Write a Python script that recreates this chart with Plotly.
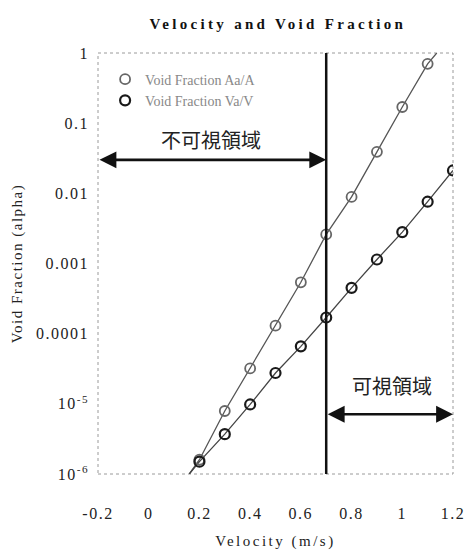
import math
import plotly.graph_objects as go

# ---- data ----
vel_aa = [0.2, 0.3, 0.4, 0.5, 0.6, 0.7, 0.8, 0.9, 1.0, 1.1]
void_aa = [1.6e-6, 7.9e-6, 3.2e-5, 1.3e-4, 5.4e-4, 2.6e-3, 8.9e-3, 0.039, 0.17, 0.70]

vel_va = [0.2, 0.3, 0.4, 0.5, 0.6, 0.7, 0.8, 0.9, 1.0, 1.1, 1.2]
void_va = [1.5e-6, 3.7e-6, 9.8e-6, 2.75e-5, 6.6e-5, 1.7e-4, 4.5e-4, 1.14e-3, 2.8e-3, 7.6e-3, 0.0212]

# fitted-line extensions beyond the measured points
aa_line_start = (0.16, 1e-6)
aa_line_end = (1.136, 1.0)
va_line_start = (0.16, 1e-6)

boundary_velocity = 0.7
invisible_arrow_y = 0.030
visible_arrow_y = 7.1e-6
invisible_label = "不可視領域"
visible_label = "可視領域"
invisible_label_pos = (0.245, 0.058)
visible_label_pos = (0.96, 1.8e-5)

x_ticks = [-0.2, 0, 0.2, 0.4, 0.6, 0.8, 1.0, 1.2]
x_ticktext = ["-0.2", "0", "0.2", "0.4", "0.6", "0.8", "1", "1.2"]
y_ticks = [1e-6, 1e-5, 1e-4, 1e-3, 1e-2, 1e-1, 1]
y_ticktext = ["10<sup>-6</sup>", "10<sup>-5</sup>", "0.0001", "0.001", "0.01", "0.1", "1"]

SERIF = "Liberation Serif, Times New Roman, serif"
CJK = "Noto Sans CJK JP"

fig = go.Figure()

# connecting / fit lines
fig.add_trace(go.Scatter(
    x=[aa_line_start[0]] + vel_aa + [aa_line_end[0]],
    y=[aa_line_start[1]] + void_aa + [aa_line_end[1]],
    mode="lines", line=dict(color="#555555", width=1.3),
    showlegend=False, hoverinfo="skip"))
fig.add_trace(go.Scatter(
    x=[va_line_start[0]] + vel_va,
    y=[va_line_start[1]] + void_va,
    mode="lines", line=dict(color="#444444", width=1.3),
    showlegend=False, hoverinfo="skip"))

# markers
fig.add_trace(go.Scatter(
    x=vel_aa, y=void_aa, mode="markers", name="Void Fraction Aa/A",
    marker=dict(symbol="circle-open", size=10, color="#666666", line=dict(width=1.8))))
fig.add_trace(go.Scatter(
    x=vel_va, y=void_va, mode="markers", name="Void Fraction Va/V",
    marker=dict(symbol="circle-open", size=10, color="#1a1a1a", line=dict(width=2.2))))

# boundary line and dotted frame
shapes = [
    dict(type="rect", xref="paper", yref="paper", x0=0, x1=1, y0=0, y1=1,
         line=dict(color="#9a9a9a", width=1, dash="dot"), layer="below"),
    dict(type="line", xref="x", yref="paper", x0=boundary_velocity, x1=boundary_velocity,
         y0=0, y1=1, line=dict(color="#111111", width=2.5)),
]

annotations = [
    dict(x=boundary_velocity, y=math.log10(invisible_arrow_y), ax=x_ticks[0],
         ay=math.log10(invisible_arrow_y), xref="x", yref="y", axref="x", ayref="y",
         text="", showarrow=True, arrowhead=2, startarrowhead=2, arrowside="end+start",
         arrowwidth=2.6, arrowsize=1.3, startarrowsize=1.3, arrowcolor="#111111",
         standoff=0, startstandoff=0),
    dict(x=x_ticks[-1], y=math.log10(visible_arrow_y), ax=boundary_velocity,
         ay=math.log10(visible_arrow_y), xref="x", yref="y", axref="x", ayref="y",
         text="", showarrow=True, arrowhead=2, startarrowhead=2, arrowside="end+start",
         arrowwidth=2.6, arrowsize=1.3, startarrowsize=1.3, arrowcolor="#111111",
         standoff=0, startstandoff=0),
    dict(x=invisible_label_pos[0], y=math.log10(invisible_label_pos[1]), xref="x", yref="y",
         text=invisible_label, showarrow=False, font=dict(family=CJK, size=20, color="#222222")),
    dict(x=visible_label_pos[0], y=math.log10(visible_label_pos[1]), xref="x", yref="y",
         text=visible_label, showarrow=False, font=dict(family=CJK, size=20, color="#222222")),
    # y-axis title, placed at the far left as in the reference
    dict(x=-0.228, y=0.5, xref="paper", yref="paper", xanchor="center", yanchor="middle",
         text="Void Fraction (alpha)", textangle=-90, showarrow=False,
         font=dict(family=SERIF, size=15, color="#222222")),
]

fig.update_layout(
    width=475, height=559,
    margin=dict(l=98, r=18, t=53, b=76),
    paper_bgcolor="white", plot_bgcolor="white",
    title=dict(text="<b>Velocity and Void Fraction</b>", x=0.585, xanchor="center",
               y=0.958, yanchor="middle",
               font=dict(family=SERIF, size=15, color="#111111")),
    font=dict(family=SERIF, size=15, color="#222222"),
    showlegend=True,
    legend=dict(x=0.02, y=0.975, xanchor="left", yanchor="top",
                bgcolor="rgba(0,0,0,0)", font=dict(family=SERIF, size=14, color="#888888"),
                tracegroupgap=2, itemwidth=30),
    shapes=shapes, annotations=annotations,
)

fig.update_xaxes(range=[-0.2, 1.2], tickvals=x_ticks, ticktext=x_ticktext,
                 showgrid=False, zeroline=False, showline=False, ticks="",
                 ticklabelstandoff=28, tickfont=dict(size=16),
                 title=dict(text="Velocity (m/s)", standoff=14, font=dict(size=15)))
fig.update_yaxes(type="log", range=[-6, 0], tickvals=y_ticks, ticktext=y_ticktext,
                 showgrid=False, zeroline=False, showline=False, ticks="",
                 ticklabelstandoff=8, tickfont=dict(size=16))

css = (
    "body{margin:0;overflow:hidden}"
    ".gtitle{letter-spacing:3.3px}"
    ".xtick text,.ytick text{letter-spacing:1.5px}"
    ".xtitle{letter-spacing:2.5px}"
    ".annotation[data-index='4'] text{letter-spacing:1.5px}"
)
post = (
    "var s=document.createElement('style');s.textContent=\"" + css + "\";"
    "document.head.appendChild(s);document.body.style.margin='0';"
)

fig.write_html("out.html", post_script=post, config={"displayModeBar": False})
